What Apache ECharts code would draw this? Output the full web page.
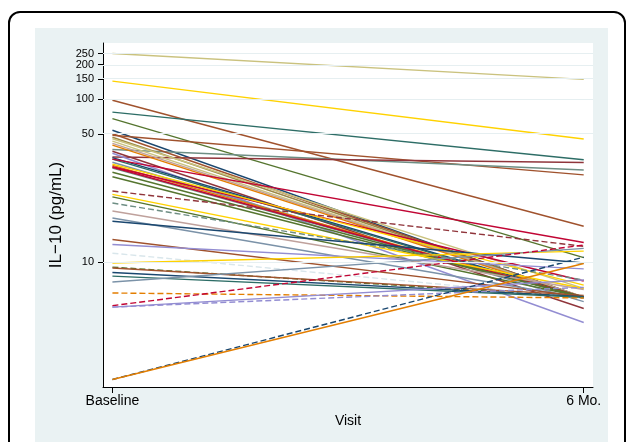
<!DOCTYPE html>
<html>
<head>
<meta charset="utf-8">
<script src="https://cdn.jsdelivr.net/npm/echarts@6/dist/echarts.min.js"></script>
<style>html,body{margin:0;padding:0;background:#fff}#c{width:627px;height:442px}</style>
</head>
<body>
<div id="c"></div>
<script>
// ---- data ----
const visitLabels = ['Baseline', '6 Mo.'];
const tickValues = [10, 50, 100, 150, 200, 250];
// IL-10 (pg/mL) at baseline and at 6 months, one entry per subject
const baseline = [250, 144, 98, 77.3, 67.9, 53.7, 49.1, 41.1, 37.4, 50.1, 47.9, 47.0, 45.6, 44.4, 43.4, 40.2, 39.2, 37.1, 36.4, 36.4, 35.0, 33.7, 33.1, 32.5, 32.9, 30.9, 29.2, 34.2, 24.4, 23.4, 22.7, 21.0, 19.0, 17.4, 16.7, 13.3, 12.5, 11.2, 9.9, 9.4, 9.3, 8.8, 8.4, 7.8, 6.8, 5.8, 5.7, 5.7, 2.3, 2.3];
const sixMonth = [149, 46.9, 15.7, 36.1, 10.6, 6.4, 29.9, 31.8, 34.9, 6.45, 6.45, 7.2, 6.45, 6.45, 6.4, 5.6, 4.7, 6.45, 6.4, 12.8, 6.1, 6.45, 7.9, 6.4, 6.45, 6.45, 6.45, 7.5, 12.2, 7.2, 6.45, 8.0, 7.1, 6.37, 9.9, 6.5, 9.2, 6.4, 11.5, 6.45, 6.6, 6.5, 6.45, 11.9, 6.39, 12.4, 8.0, 7.3, 10.65, 9.84];
// styles
const palette = {navy:'#1a476f', maroon:'#90353b', forest:'#55752f', dkorange:'#e37e00', teal:'#6e8e84', cranberry:'#c10534', lavender:'#938dd2', khaki:'#cac27e', sienna:'#a0522d', emidblue:'#7b92a8', emerald:'#2d6d66', brown:'#9c8847', erose:'#bfa19c', gold:'#ffd200', bluishgray:'#d9e6eb'};
const lineColor = ['khaki','gold','sienna','emerald','forest','navy','sienna','teal','maroon','sienna','brown','khaki','khaki','erose','dkorange','maroon','lavender','navy','emerald','cranberry','emidblue','dkorange','cranberry','teal','cranberry','forest','forest','gold','maroon','gold','forest','teal','erose','emidblue','navy','sienna','lavender','bluishgray','gold','forest','sienna','navy','emerald','emidblue','dkorange','cranberry','lavender','lavender','navy','dkorange'];
const lineDashed = [0,0,0,0,0,0,0,0,0,0,0,0,0,0,0,0,0,0,0,0,0,0,0,0,0,0,0,0,1,0,0,1,0,0,0,0,0,1,0,1,0,0,0,0,1,1,0,1,1,0];

// ---- y scale: log above 50, stretched log below 50 (as in the figure) ----
const LOG50 = Math.log10(50);
const LOWER_STRETCH = 1.6;
function toAxis(v) {
  const L = Math.log10(v);
  return L >= LOG50 ? L : LOG50 - LOWER_STRETCH * (LOG50 - L);
}
function fromAxis(u) {
  return u >= LOG50 ? Math.pow(10, u) : Math.pow(10, LOG50 - (LOG50 - u) / LOWER_STRETCH);
}

const FONT = '"Liberation Sans", Arial, Helvetica, sans-serif';
const chart = echarts.init(document.getElementById('c'), null, {renderer: 'canvas'});

const series = [{
  type: 'line', data: [], z: 1, silent: true,
  markLine: {
    silent: true, symbol: 'none', animation: false,
    label: {show: false},
    lineStyle: {color: '#e6eff1', width: 1, type: 'solid'},
    data: tickValues.map(v => ({yAxis: toAxis(v)}))
  }
}];
for (let i = 0; i < baseline.length; i++) {
  series.push({
    type: 'line', silent: true, symbol: 'none', showSymbol: false, z: 3,
    data: [[0, toAxis(baseline[i])], [1, toAxis(sixMonth[i])]],
    lineStyle: {color: palette[lineColor[i]], width: 1.4, type: lineDashed[i] ? [6, 3] : 'solid'}
  });
}

chart.setOption({
  animation: false,
  backgroundColor: '#fff',
  graphic: [
    {type: 'rect', z: -20, silent: true, shape: {x: 9, y: 12, width: 616, height: 480, r: 11}, style: {fill: '#fff', stroke: '#000', lineWidth: 2}},
    {type: 'rect', z: -19, silent: true, shape: {x: 35, y: 28, width: 573, height: 430}, style: {fill: '#eaf2f3'}}
  ],
  grid: {left: 103, right: 34, top: 43, bottom: 55, show: true, backgroundColor: '#fff', borderWidth: 0, containLabel: false, outerBoundsMode: 'none'},
  xAxis: {
    type: 'value', min: -0.02, max: 1.0197,
    name: 'Visit', nameLocation: 'middle', nameGap: 27,
    nameTextStyle: {fontFamily: FONT, fontSize: 14, color: '#000'},
    axisLine: {show: true, onZero: false, lineStyle: {color: '#000', width: 1}},
    axisTick: {show: true, length: 6, customValues: [0, 1], lineStyle: {color: '#000'}},
    axisLabel: {customValues: [0, 1], margin: 7, fontFamily: FONT, fontSize: 14, color: '#000',
      formatter: v => visitLabels[Math.round(v)]},
    splitLine: {show: false}
  },
  yAxis: {
    type: 'value', min: -0.506, max: 2.49,
    name: 'IL\u221210 (pg/mL)', nameLocation: 'middle', nameGap: 37,
    nameTextStyle: {fontFamily: FONT, fontSize: 17, color: '#000'},
    axisLine: {show: true, onZero: false, lineStyle: {color: '#000', width: 1}},
    axisTick: {show: true, length: 5, customValues: tickValues.map(toAxis), lineStyle: {color: '#000'}},
    axisLabel: {customValues: tickValues.map(toAxis), margin: 9, fontFamily: FONT, fontSize: 11, color: '#000',
      formatter: u => String(Math.round(fromAxis(u)))},
    splitLine: {show: false}
  },
  series: series
});
</script>
</body>
</html>
